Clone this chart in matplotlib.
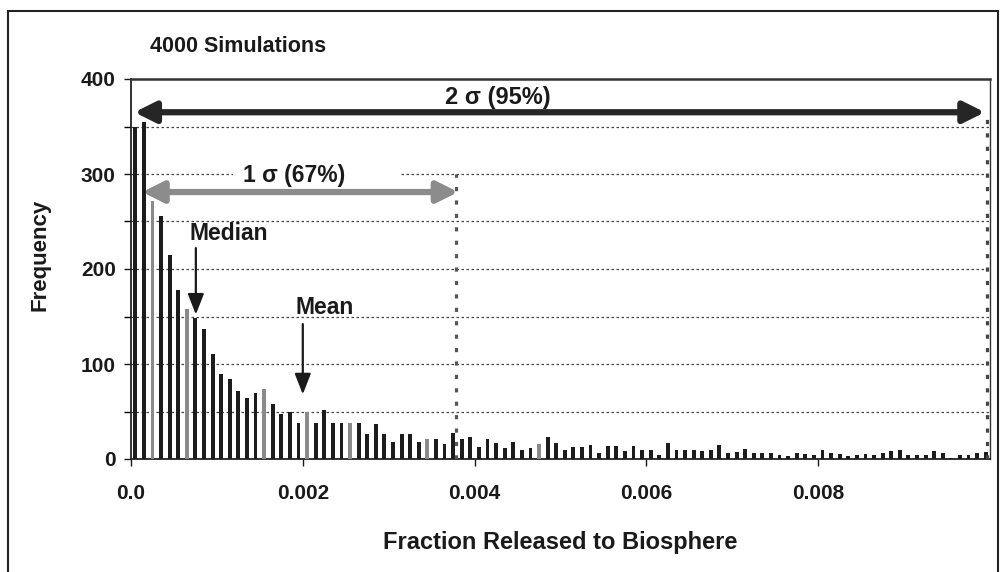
import numpy as np
import matplotlib
matplotlib.use("Agg")
import matplotlib.pyplot as plt
from matplotlib.patches import Rectangle

plt.rcParams['font.family'] = ['Liberation Sans', 'DejaVu Sans']
plt.rcParams['font.weight'] = 'bold'

# histogram of fraction released, 100 bins of width 0.0001
bin_width = 0.0001
counts = [350, 355, 272, 256, 215, 178, 158, 148, 137, 111,
          89, 84, 72, 64, 69, 74, 58, 47, 50, 38,
          49, 38, 52, 38, 38, 38, 38, 26, 37, 26,
          18, 26, 26, 18, 21, 21, 16, 27, 21, 23,
          13, 21, 17, 12, 18, 10, 12, 16, 23, 17,
          10, 13, 13, 15, 6, 14, 14, 8, 14, 10,
          10, 4, 17, 10, 10, 10, 8, 9, 15, 6,
          7, 11, 6, 6, 6, 4, 3, 6, 5, 4,
          9, 6, 5, 3, 4, 5, 4, 6, 8, 10,
          4, 4, 4, 8, 6, 1, 4, 4, 6, 7]
bin_left = np.arange(len(counts)) * bin_width

median_x = 0.000755
mean_x = 0.002
sigma1_x = 0.00378
sigma2_x = 0.00996

x_ticks = [0.0, 0.002, 0.004, 0.006, 0.008]
x_tick_labels = ["0.0", "0.002", "0.004", "0.006", "0.008"]
y_ticks = [0, 100, 200, 300, 400]

fig = plt.figure(figsize=(10.03, 5.72), dpi=100)
ax = fig.add_axes([131 / 1003, 1 - 459 / 572, 859 / 1003, 380 / 572])

# a few bars come out lighter in the printed figure
light = {2, 6, 15, 20, 25, 34, 47}
colors = ['#8a8a8a' if i in light else '#1c1c1c' for i in range(len(counts))]
ax.bar(bin_left + bin_width / 2, counts, width=bin_width * 0.45,
       color=colors, zorder=3)

ax.set_xlim(0, 0.01)
ax.set_ylim(0, 400)

# dotted horizontal grid
for y in range(50, 400, 50):
    ax.axhline(y, color='#444444', lw=0.9, ls=(0, (2, 2)), zorder=1)

ax.set_xticks(x_ticks)
ax.set_xticklabels(x_tick_labels)
ax.set_yticks(y_ticks)
ax.set_yticks(range(50, 400, 100), minor=True)
ax.tick_params(axis='both', direction='out', length=5, width=1,
               labelsize=15, colors='#1a1a1a')
ax.tick_params(axis='x', pad=13)
ax.tick_params(axis='y', pad=6)
ax.tick_params(axis='y', which='minor', length=5, width=1)
for lab in ax.get_xticklabels() + ax.get_yticklabels():
    lab.set_fontweight('bold')

for side in ['left', 'bottom']:
    ax.spines[side].set_color('#222222')
    ax.spines[side].set_linewidth(1.3)
ax.spines['top'].set_color('#333333')
ax.spines['top'].set_linewidth(1.8)
ax.spines['right'].set_color('#333333')
ax.spines['right'].set_linewidth(1.0)

ax.set_xlabel('Fraction Released to Biosphere', fontsize=17, fontweight='bold',
              color='#1a1a1a')
ax.set_ylabel('Frequency', fontsize=16, fontweight='bold', color='#1a1a1a')
ax.xaxis.set_label_coords((560 - 131) / 859, (459 - 543) / 380)
ax.yaxis.set_label_coords((40 - 131) / 859, (459 - 255) / 380)
ax.xaxis.label.set_va('center')
ax.yaxis.label.set_va('center')

# sigma boundaries
dots = (0, (1.3, 2.9))
ax.plot([sigma1_x, sigma1_x], [0, 300], color='#555555', lw=2.3, ls=dots,
        dash_capstyle='butt', zorder=4)
ax.plot([sigma2_x, sigma2_x], [0, 362], color='#444444', lw=2.3, ls=dots,
        dash_capstyle='butt', zorder=4)

# 2 sigma arrow
ax.annotate('', xy=(0.00004, 365), xytext=(sigma2_x - 0.00002, 365),
            arrowprops=dict(arrowstyle='<|-|>,head_length=0.7,head_width=0.35',
                            lw=4.5, color='#262626', mutation_scale=18,
                            shrinkA=0, shrinkB=0), zorder=5)
ax.text(0.00427, 381, '2 σ (95%)', ha='center', va='center', fontsize=17,
        fontweight='bold', color='#1a1a1a', zorder=6)

# 1 sigma arrow, label sits on a white patch over the 300 grid line
ax.annotate('', xy=(0.00013, 281), xytext=(sigma1_x + 0.00003, 281),
            arrowprops=dict(arrowstyle='<|-|>,head_length=0.7,head_width=0.35',
                            lw=4.5, color='#8c8c8c', mutation_scale=18,
                            shrinkA=0, shrinkB=0), zorder=5)
ax.add_patch(Rectangle((0.00119, 290), 0.00195, 19, facecolor='white',
                       edgecolor='none', zorder=2))
ax.text(0.0019, 298, '1 σ (67%)', ha='center', va='center', fontsize=16.5,
        fontweight='bold', color='#1a1a1a', zorder=6)

# median and mean markers
ax.annotate('', xy=(median_x, 152), xytext=(median_x, 222),
            arrowprops=dict(arrowstyle='-|>,head_length=0.9,head_width=0.35',
                            lw=1.6, color='#1a1a1a', mutation_scale=14,
                            shrinkA=0, shrinkB=0), zorder=6)
ax.text(0.00114, 237, 'Median', ha='center', va='center', fontsize=16.5,
        fontweight='bold', color='#1a1a1a', zorder=6)
ax.annotate('', xy=(mean_x, 68), xytext=(mean_x, 142),
            arrowprops=dict(arrowstyle='-|>,head_length=0.9,head_width=0.35',
                            lw=1.6, color='#1a1a1a', mutation_scale=14,
                            shrinkA=0, shrinkB=0), zorder=6)
ax.text(0.00225, 159, 'Mean', ha='center', va='center', fontsize=16.5,
        fontweight='bold', color='#1a1a1a', zorder=6)

fig.text(150 / 1003, 1 - 47 / 572, '4000 Simulations', ha='left', va='center',
         fontsize=15.5, fontweight='bold', color='#1a1a1a')

# outer frame of the figure
fig.patches.append(Rectangle((8 / 1003, -0.05), 990 / 1003, 1.05 - 11 / 572,
                             transform=fig.transFigure, fill=False,
                             edgecolor='#222222', lw=1.5))

fig.savefig('out.png', dpi=100)
